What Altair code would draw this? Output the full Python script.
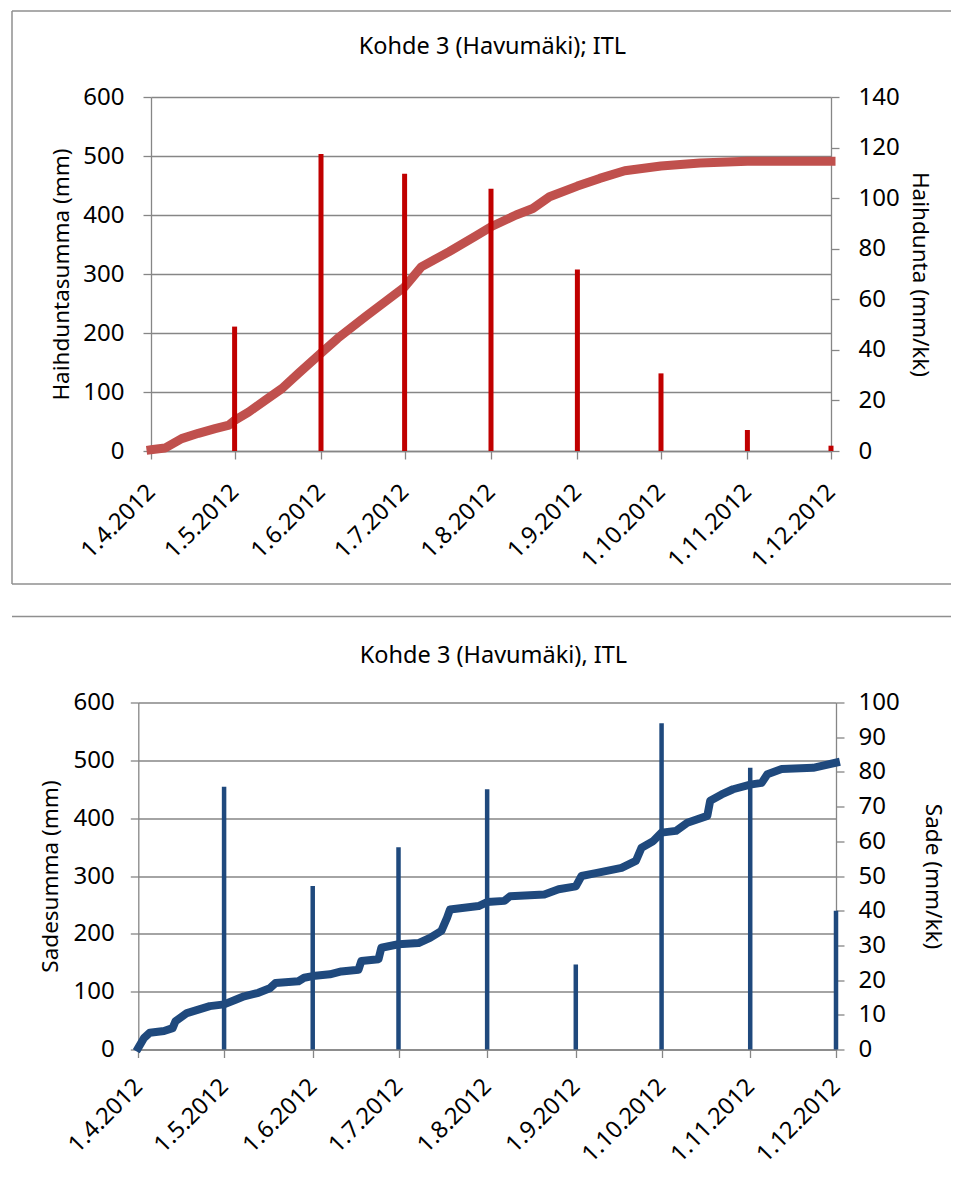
import altair as alt
import pandas as pd

FONT = "Noto Sans"
GRID = "#868686"

# ---- Top panel: evaporation (Haihdunta) ----
evap_dates = ["2012-04-01", "2012-04-06", "2012-04-12", "2012-04-18", "2012-04-24",
              "2012-04-29", "2012-05-01", "2012-05-06", "2012-05-12", "2012-05-18",
              "2012-05-24", "2012-06-01", "2012-06-07", "2012-06-17", "2012-06-24",
              "2012-07-01", "2012-07-07", "2012-07-17", "2012-07-26", "2012-08-01",
              "2012-08-10", "2012-08-16", "2012-08-22", "2012-09-01", "2012-09-09",
              "2012-09-18", "2012-10-01", "2012-10-15", "2012-11-01", "2012-12-01"]
evap_cum = [2, 5, 21, 30, 38, 44, 52, 66, 86, 106, 132, 166, 191, 228, 253,
            278, 312, 338, 363, 380, 400, 411, 431, 449, 462, 475, 483, 488, 491, 491]

month_dates = ["2012-05-01", "2012-06-01", "2012-07-01", "2012-08-01",
               "2012-09-01", "2012-10-01", "2012-11-01", "2012-12-01"]
evap_month = [49.2, 117.5, 109.6, 103.7, 71.8, 30.7, 8.3, 2.1]

# ---- Bottom panel: precipitation (Sade) ----
rain_dates = ["2012-04-01", "2012-04-03", "2012-04-05", "2012-04-10", "2012-04-13",
              "2012-04-14", "2012-04-18", "2012-04-22", "2012-04-26", "2012-05-01",
              "2012-05-05", "2012-05-08", "2012-05-13", "2012-05-17", "2012-05-19",
              "2012-05-27", "2012-05-29", "2012-06-01", "2012-06-07", "2012-06-11",
              "2012-06-17", "2012-06-18", "2012-06-24", "2012-06-25", "2012-07-01",
              "2012-07-08", "2012-07-12", "2012-07-16", "2012-07-18", "2012-07-19",
              "2012-07-29", "2012-08-01", "2012-08-07", "2012-08-09", "2012-08-21",
              "2012-08-26", "2012-09-01", "2012-09-03", "2012-09-08", "2012-09-17",
              "2012-09-22", "2012-09-24", "2012-09-28", "2012-10-01", "2012-10-06",
              "2012-10-10", "2012-10-17", "2012-10-18", "2012-10-22", "2012-10-26",
              "2012-11-01", "2012-11-05", "2012-11-07", "2012-11-12", "2012-11-23",
              "2012-12-01"]
rain_cum = [3, 20, 29, 32, 37, 49, 63, 69, 75, 78, 86, 92, 98, 106, 115, 118, 124,
            127, 130, 135, 138, 153, 156, 176, 182, 184, 193, 205, 228, 242, 248,
            255, 257, 265, 268, 277, 282, 300, 305, 314, 326, 349, 360, 375, 378,
            392, 404, 430, 441, 450, 458, 461, 476, 485, 487, 496]
rain_month = [75.7, 47.1, 58.3, 75.0, 24.5, 94.0, 81.2, 40.0]

tick_dates = [alt.DateTime(year=2012, month=m, date=1, utc=True) for m in range(4, 13)]
x_domain = [alt.DateTime(year=2012, month=4, date=1, utc=True),
            alt.DateTime(year=2012, month=12, date=1, utc=True)]


def panel(dates, cum, mvals, line_color, bar_color, line_w, bar_w, title,
          left_title, right_title, rmax, rstep, w, h, lpad, rpad, xpad,
          title_xy, deco, lt_pad, rt_pad, x_shift=0.0):
    df_line = pd.DataFrame({"date": dates, "cum": cum})
    df_bar = pd.DataFrame({"date": month_dates, "val": mvals})

    x_axis = alt.Axis(values=tick_dates, format="%-d.%-m.%Y", labelAngle=315,
                      labelAlign="right", labelBaseline="middle", grid=False,
                      tickSize=8, labelPadding=xpad, domainColor=GRID, tickColor=GRID,
                      labelFontSize=23.5, labelColor="black", title=None,
                      labelOverlap=False, tickWidth=1.3, domainWidth=1.3)
    if x_shift:
        xs = alt.Scale(type="utc", domain=x_domain, nice=False, range=[-x_shift, w])
    else:
        xs = alt.Scale(type="utc", domain=x_domain, nice=False)
    x_enc = alt.X("date:T", scale=xs, axis=x_axis)

    left_axis_kw = dict(values=list(range(0, 601, 100)), orient="left",
                        grid=True, gridColor=GRID, gridWidth=1.3,
                        domainColor=GRID, tickColor=GRID, tickSize=8,
                        domainWidth=1.3, tickWidth=1.3,
                        labelPadding=lpad, labelFontSize=24, labelColor="black",
                        title=left_title, titleFontSize=22.5,
                        titleFontWeight="normal", titleColor="black",
                        titlePadding=lt_pad)
    if x_shift:
        left_axis_kw["offset"] = x_shift

    line = alt.Chart(df_line).mark_line(color=line_color, strokeWidth=line_w,
                                        strokeJoin="round", strokeCap="square").encode(
        x=x_enc,
        y=alt.Y("cum:Q", scale=alt.Scale(domain=[0, 600], nice=False),
                axis=alt.Axis(**left_axis_kw)),
    )

    bars = alt.Chart(df_bar).mark_rule(color=bar_color, strokeWidth=bar_w).encode(
        x=x_enc,
        y=alt.Y("val:Q", scale=alt.Scale(domain=[0, rmax], nice=False),
                axis=alt.Axis(values=list(range(0, rmax + 1, rstep)), orient="right",
                              grid=False, domainColor=GRID, tickColor=GRID, tickSize=8,
                              domainWidth=1.3, tickWidth=1.3,
                              labelPadding=rpad, labelFontSize=24, labelColor="black",
                              title=right_title, titleFontSize=22.5,
                              titleFontWeight="normal", titleColor="black",
                              titlePadding=rt_pad)),
        y2=alt.datum(0),
    )

    one = pd.DataFrame({"k": [0]})
    layers = [line, bars]
    for (x1, x2, y1, y2) in deco:
        layers.append(alt.Chart(one).mark_rule(color="#8f8f8f", strokeWidth=1.5).encode(
            x=alt.value(x1), x2=alt.value(x2), y=alt.value(y1), y2=alt.value(y2)))
    layers.append(alt.Chart(one).mark_text(fontSize=23.5, color="black", font=FONT,
                                           align="center", baseline="middle").encode(
        x=alt.value(title_xy[0]), y=alt.value(title_xy[1]), text=alt.value(title)))

    return alt.layer(*layers).resolve_scale(y="independent").properties(width=w, height=h)


top = panel(evap_dates, evap_cum, evap_month, "#C0504D", "#C00000", 9, 5,
            "Kohde 3 (Havumäki); ITL", "Haihduntasumma (mm)", "Haihdunta (mm/kk)",
            140, 20, 680, 354, 19, 19, 29, (341.5, -50),
            [(-139, 800, -86, -86), (-139, -139, -86, 487), (-139, 800, 487, 487)],
            9, 8)

# bottom panel's plot area starts 12.7 px left of the top one's
bottom = panel(rain_dates, rain_cum, rain_month, "#1F497D", "#1F497D", 8, 4.5,
               "Kohde 3 (Havumäki), ITL", "Sadesumma (mm)", "Sade (mm/kk)",
               100, 10, 685, 347, 16, 14, 25, (342.5, -47),
               [(-139, 800, -86, -86)],
               11, 21, x_shift=12.7)

chart = alt.concat(top, bottom, columns=1, spacing=30.5).properties(
    padding={"left": 3, "top": 2, "right": 0, "bottom": 0}
).configure(font=FONT).configure_view(stroke=None)

chart.save("out.html", embed_options={"renderer": "svg", "actions": False})
